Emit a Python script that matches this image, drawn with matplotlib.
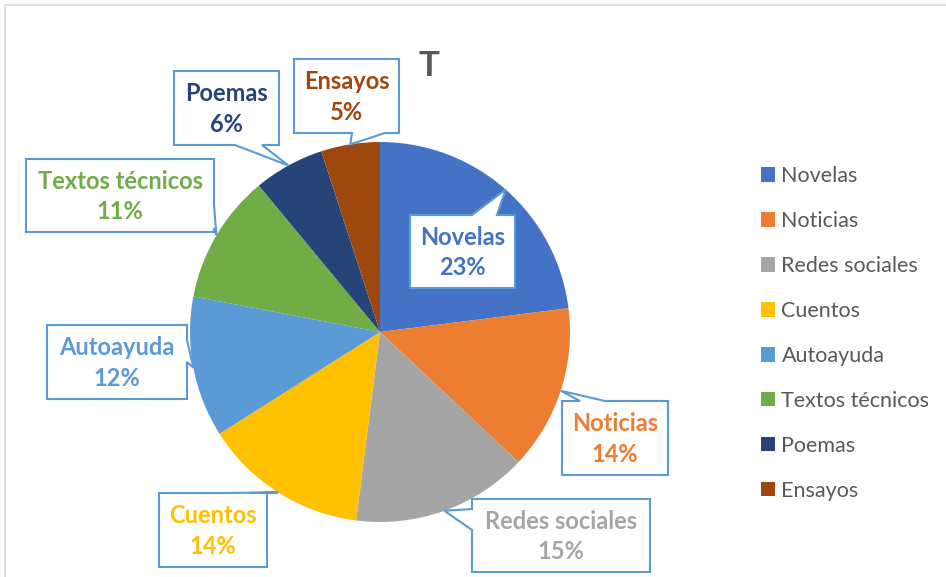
import matplotlib
matplotlib.use("Agg")
import matplotlib.pyplot as plt
import numpy as np
from matplotlib.patches import Polygon, Rectangle

plt.rcParams['font.family'] = ['Lato', 'DejaVu Sans']

categories = ['Novelas', 'Noticias', 'Redes sociales', 'Cuentos',
              'Autoayuda', 'Textos técnicos', 'Poemas', 'Ensayos']
values = [23, 14, 15, 14, 12, 11, 6, 5]
colors = ['#4472C4', '#ED7D31', '#A5A5A5', '#FFC000',
          '#5B9BD5', '#70AD47', '#264478', '#9E480E']

# callout layout in pixels (x0, y0 top, x1, y1 bottom), edge holding the pointer, pointer base span
boxes = [(410, 215, 515, 288), (562, 401, 668, 475), (472, 499, 650, 572), (159, 493, 267, 567),
         (47, 325, 187, 399), (26, 159, 214, 232), (174, 71, 279, 145), (294, 59, 399, 133)]
edges = ['top', 'top', 'left', 'top', 'right', 'right', 'bottom', 'bottom']
bases = [(472, 497), (580, 605), (509, 530), (223, 250),
         (340, 362), (205, 228), (235, 262), (352, 385)]

W, H = 946, 577
fig = plt.figure(figsize=(W / 100, H / 100), dpi=100)

# pie: centre (380, 332), radius 190 px
ax = fig.add_axes([190 / W, 55 / H, 380 / W, 380 / H])
wedges, _ = ax.pie(values, colors=colors, startangle=90, counterclock=False,
                   wedgeprops=dict(linewidth=0))
ax.set_xlim(-1, 1)
ax.set_ylim(-1, 1)
ax.set_aspect('equal')
ax.axis('off')

# overlay in pixel coordinates for callouts, title and border
ov = fig.add_axes([0, 0, 1, 1], zorder=5)
ov.set_xlim(0, W)
ov.set_ylim(H, 0)
ov.axis('off')
ov.patch.set_alpha(0)

ov.add_patch(Rectangle((5, 5), 2000, 2000, fill=False, edgecolor='#D9D9D9', lw=1.2))
ov.text(429, 66, 'T', ha='center', va='center', fontsize=25, fontweight='bold', color='#595959')


def callout(box, edge, base, tip):
    x0, y0, x1, y1 = box
    a, b = base
    if edge == 'top':
        pts = [(x0, y0), (a, y0), tip, (b, y0), (x1, y0), (x1, y1), (x0, y1)]
    elif edge == 'right':
        pts = [(x0, y0), (x1, y0), (x1, a), tip, (x1, b), (x1, y1), (x0, y1)]
    elif edge == 'bottom':
        pts = [(x0, y0), (x1, y0), (x1, y1), (b, y1), tip, (a, y1), (x0, y1)]
    else:
        pts = [(x0, y0), (x1, y0), (x1, y1), (x0, y1), (x0, b), tip, (x0, a)]
    return pts


total = sum(values)
to_px = ax.transData + ov.transData.inverted()
for w, name, v, col, box, edge, base in zip(wedges, categories, values, colors, boxes, edges, bases):
    mid = np.deg2rad((w.theta1 + w.theta2) / 2)
    tip = tuple(to_px.transform((w.r * np.cos(mid), w.r * np.sin(mid))))
    ov.add_patch(Polygon(callout(box, edge, base, tip), closed=True, facecolor='white',
                         edgecolor='#5B9BD5', lw=1.5, joinstyle='miter'))
    cx, cy = (box[0] + box[2]) / 2, (box[1] + box[3]) / 2
    ov.text(cx, cy + 1, f"{name}\n{round(v / total * 100)}%", ha='center', va='center',
            fontsize=17, fontweight='bold', color=col, linespacing=1.4)

leg = fig.legend(wedges, categories, loc='upper left', bbox_to_anchor=(761 / W, 1 - 166 / H),
                 frameon=False, fontsize=15.5, handlelength=0.65, handleheight=0.65,
                 handletextpad=0.3, labelspacing=1.16, borderpad=0, borderaxespad=0)
for t in leg.get_texts():
    t.set_color('#595959')

fig.savefig('out.png', dpi=100)
